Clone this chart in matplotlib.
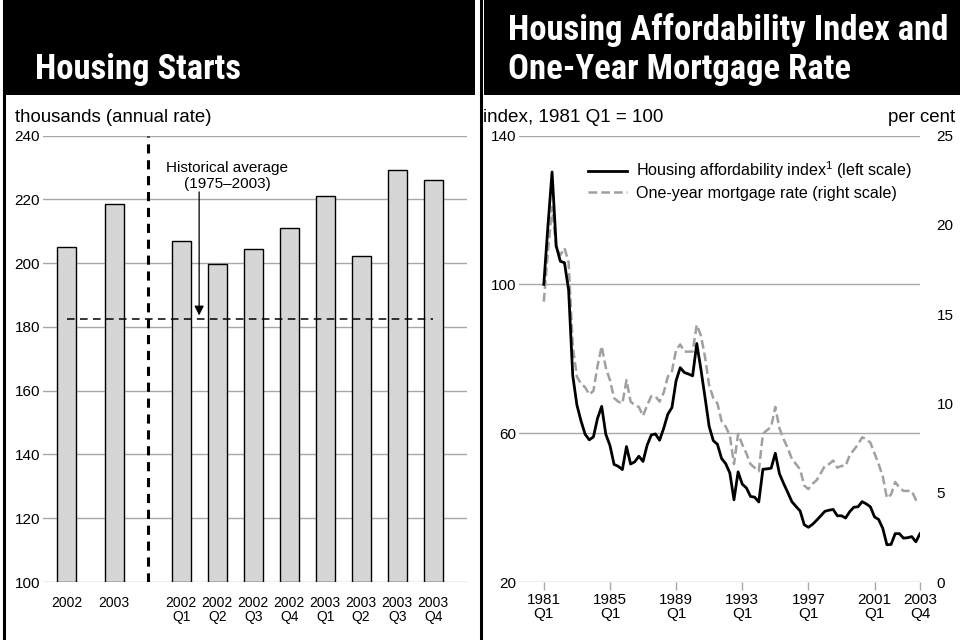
import numpy as np
import matplotlib
matplotlib.use("Agg")
import matplotlib.pyplot as plt
from matplotlib.patches import Rectangle
from matplotlib.lines import Line2D
from matplotlib import font_manager

plt.rcParams['font.family'] = ['Liberation Sans', 'DejaVu Sans']
plt.rcParams['mathtext.default'] = 'regular'

# ---------------- data ----------------
bar_labels = ["2002", "2003", "2002\nQ1", "2002\nQ2", "2002\nQ3", "2002\nQ4",
              "2003\nQ1", "2003\nQ2", "2003\nQ3", "2003\nQ4"]
starts = [205.0, 218.4, 206.8, 199.7, 204.5, 210.9, 220.9, 202.2, 229.2, 226.2]
hist_avg = 182.4
left_yticks = [100, 120, 140, 160, 180, 200, 220, 240]

afford_index = [100.0, 115.7, 130.2, 110.3, 106.2, 105.8, 98.5, 75.5, 67.6, 63.3,
                59.7, 58.2, 59.0, 64.0, 67.2, 59.7, 56.7, 51.6, 51.1, 50.2,
                56.4, 51.7, 52.3, 53.8, 52.4, 56.8, 59.5, 59.8, 58.1, 61.3,
                65.1, 66.9, 74.1, 77.6, 76.3, 75.9, 75.4, 84.1, 77.2, 69.6,
                61.8, 58.0, 57.0, 53.2, 51.8, 49.3, 42.1, 49.6, 46.3, 45.3,
                43.0, 42.8, 41.5, 50.3, 50.4, 50.6, 54.6, 49.1, 46.5, 44.1,
                41.6, 40.3, 39.1, 35.4, 34.7, 35.5, 36.6, 37.8, 39.0, 39.3,
                39.5, 37.8, 37.8, 37.2, 38.9, 40.1, 40.2, 41.6, 41.0, 40.2,
                37.5, 36.8, 34.4, 30.0, 30.1, 33.0, 33.0, 31.8, 31.9, 32.2,
                30.8, 33.0]
mortgage_rate = [15.7, 18.5, 21.0, 18.7, 18.3, 18.7, 17.9, 13.2, 11.5, 11.1,
                 10.9, 10.5, 10.7, 12.1, 13.2, 12.0, 11.3, 10.3, 10.1, 10.0,
                 11.3, 10.1, 9.9, 9.8, 9.3, 9.9, 10.4, 10.4, 10.1, 10.6,
                 11.5, 11.8, 13.0, 13.3, 12.9, 12.9, 12.9, 14.4, 13.8, 12.6,
                 11.0, 10.3, 10.0, 9.0, 8.7, 8.2, 6.6, 8.3, 7.7, 7.2,
                 6.6, 6.4, 6.2, 8.3, 8.5, 8.7, 9.8, 8.6, 8.0, 7.5,
                 6.9, 6.6, 6.3, 5.4, 5.2, 5.5, 5.7, 6.1, 6.5, 6.6,
                 6.8, 6.4, 6.5, 6.5, 7.1, 7.4, 7.7, 8.1, 8.0, 7.8,
                 7.2, 6.6, 5.9, 4.7, 4.9, 5.6, 5.3, 5.1, 5.1, 5.1,
                 4.6, 4.7]
first_year = 1981
right_xtick_labels = ["1981\nQ1", "1985\nQ1", "1989\nQ1", "1993\nQ1",
                      "1997\nQ1", "2001\nQ1", "2003\nQ4"]
left_scale_ticks = [20, 60, 100, 140]
right_scale_ticks = [0, 5, 10, 15, 20, 25]

# ---------------- title font: prefer a condensed bold face ----------------
def pick_title_font():
    files = [f.fname for f in font_manager.fontManager.ttflist]
    prefs = ['LiberationSansNarrow-Bold.', 'RobotoCondensed-Bold.', 'RobotoCondensed-ExtraBold.',
             'DejaVuSansCondensed-Bold.', 'OpenSans_Condensed-Bold.', 'OpenSans-CondensedBold.',
             'NotoSans-CondensedBold.', 'NotoSansDisplay-CondensedBold.']
    for p in prefs:
        for fn in files:
            if fn.split('/')[-1].startswith(p):
                return font_manager.FontProperties(fname=fn)
    return font_manager.FontProperties(family='Liberation Sans', weight='bold')

title_fp = pick_title_font()

# ---------------- figure ----------------
W, H = 960, 640
fig = plt.figure(figsize=(W / 100, H / 100), dpi=100)
fig.patch.set_facecolor('white')

def fx(px):
    return px / W

def fy(py):
    return 1 - py / H

# title bands and borders
fig.add_artist(Rectangle((fx(3), fy(95)), fx(472), 95 / H, transform=fig.transFigure,
                         facecolor='black', edgecolor='none'))
fig.add_artist(Rectangle((fx(484), fy(95)), fx(476), 95 / H, transform=fig.transFigure,
                         facecolor='black', edgecolor='none'))
fig.add_artist(Line2D([fx(4), fx(4)], [0, 1], transform=fig.transFigure, color='black', lw=2.2))
fig.add_artist(Line2D([fx(480.5), fx(480.5)], [0, 1], transform=fig.transFigure, color='black', lw=2.2))

t1 = fig.text(fx(35), fy(79), "Housing Starts", color='white', fontproperties=title_fp,
              va='baseline', ha='left')
t2 = fig.text(fx(508), fy(40), "Housing Affordability Index and", color='white',
              fontproperties=title_fp, va='baseline', ha='left')
t3 = fig.text(fx(508), fy(79), "One-Year Mortgage Rate", color='white',
              fontproperties=title_fp, va='baseline', ha='left')
for t in (t1, t2, t3):
    t.set_fontsize(26)

fig.canvas.draw()
r = fig.canvas.get_renderer()
for t, target in [(t1, 206), (t2, 440)]:
    w = t.get_window_extent(r).width
    t.set_fontsize(t.get_fontsize() * target / w)
t3.set_fontsize(t2.get_fontsize())

fig.text(fx(15), fy(122), "thousands (annual rate)", fontsize=13.4, ha='left', va='baseline')
fig.text(fx(483), fy(122), "index, 1981 Q1 = 100", fontsize=13.6, ha='left', va='baseline')
fig.text(fx(955), fy(122), "per cent", fontsize=13.4, ha='right', va='baseline')

grid_color = '#a8a8a8'

# ---------------- left: housing starts ----------------
axL = fig.add_axes([fx(43), fy(582), fx(467 - 43), (582 - 135.5) / H])
n_ann = 2
pos = np.concatenate([np.array([0.0, 1.314]), 3.177 + np.arange(len(starts) - n_ann)])
axL.set_xlim(-0.663, 11.117)
axL.set_ylim(100, 240)
for v in left_yticks:
    axL.axhline(v, color=grid_color, lw=1.0, zorder=0)
axL.bar(pos, np.array(starts) - 100, bottom=100, width=0.53, color='#d6d6d6',
        edgecolor='black', linewidth=1.0, zorder=2)
axL.hlines(hist_avg, pos[0], pos[-1], colors='black', linestyles=(0, (5, 3.5)),
           lw=1.1, zorder=3)
axL.axvline((pos[1] + pos[2]) / 2, color='black', lw=2.2,
            linestyle=(0, (3, 2.2)), zorder=3)
axL.annotate("", xy=(3.675, hist_avg + 1.2), xytext=(3.675, 222.3),
             arrowprops=dict(arrowstyle='-|>', color='black', lw=0.9,
                             mutation_scale=14, shrinkA=0, shrinkB=0), zorder=4)
axL.text(4.45, 222.6, "Historical average\n(1975\u20132003)", ha='center', va='bottom',
         fontsize=11, linespacing=1.15, zorder=4)
axL.set_yticks(left_yticks)
axL.set_yticklabels([str(v) for v in left_yticks], fontsize=11)
axL.set_xticks(pos)
axL.set_xticklabels(bar_labels, fontsize=10, linespacing=1.0)
axL.tick_params(axis='both', length=0)
axL.tick_params(axis='y', pad=2)
axL.tick_params(axis='x', pad=10)
for s in axL.spines.values():
    s.set_visible(False)
axL.patch.set_alpha(0)

# ---------------- right: affordability ----------------
axR = fig.add_axes([fx(519), fy(582), fx(920 - 519), (582 - 135.5) / H])
q = np.arange(len(afford_index))
axR.set_xlim(-6, 91)
axR.set_ylim(20, 140)
for v in left_scale_ticks:
    axR.axhline(v, color=grid_color, lw=1.0, zorder=0)
l1, = axR.plot(q, afford_index, color='black', lw=2.0, zorder=3,
               label="Housing affordability index$^1$ (left scale)")
axR2 = axR.twinx()
axR2.set_ylim(0, 25)
l2, = axR2.plot(q, mortgage_rate, color='#a0a0a0', lw=1.8, linestyle=(0, (3.5, 1.6)),
                zorder=2, label="One-year mortgage rate (right scale)")
axR.set_zorder(axR2.get_zorder() + 1)
axR.patch.set_visible(False)

axR.set_yticks(left_scale_ticks)
axR.set_yticklabels([str(v) for v in left_scale_ticks], fontsize=11)
axR2.set_yticks(right_scale_ticks)
axR2.set_yticklabels([str(v) for v in right_scale_ticks], fontsize=11)
xt = [(int(s.split("\n")[0]) - first_year) * 4 + (int(s.split("\n")[1][1]) - 1)
      for s in right_xtick_labels]
axR.set_xticks(xt)
axR.set_xticklabels(right_xtick_labels, fontsize=11, linespacing=0.95)
axR.tick_params(axis='y', length=0, pad=2)
axR2.tick_params(axis='y', length=0, pad=12)
axR.tick_params(axis='x', length=6, color=grid_color, width=1.0, pad=2)
for ax in (axR, axR2):
    for s in ax.spines.values():
        s.set_visible(False)

leg = axR.legend(handles=[l1, l2], loc='upper left',
                 bbox_to_anchor=((588 - 519) / 401, 1 - 24 / 446.5),
                 frameon=False, fontsize=11.6, handlelength=2.4, handletextpad=0.55,
                 labelspacing=0.3, borderaxespad=0, borderpad=0)

fig.savefig("out.png", dpi=100, facecolor='white')
